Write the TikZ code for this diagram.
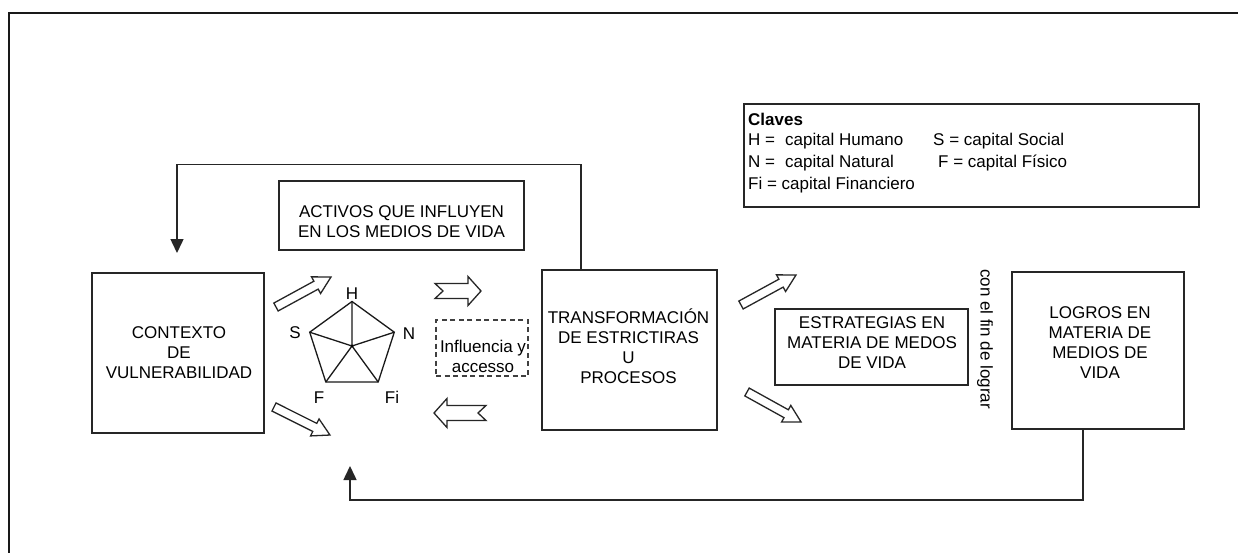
\documentclass[tikz,border=0pt]{standalone}
\usepackage{fontspec}
\setmainfont{Liberation Sans}
\usetikzlibrary{arrows.meta}
\tikzset{
  box/.style={draw=black!85, line width=1.6pt, inner sep=0pt},
  dbox/.style={draw=black!75, line width=1.5pt, dash pattern=on 5pt off 3.5pt, inner sep=0pt},
  txt/.style={font=\fontsize{17pt}{20pt}\selectfont, align=center, inner sep=0pt, text=black},
  conn/.style={draw=black!85, line width=1.5pt},
  tipA/.style={-{Triangle[width=13pt,length=14pt]}},
  barrow/.style={draw=black!85, line width=1.3pt, fill=white, line join=miter},
  penta/.style={draw=black!90, line width=1.3pt, line join=miter},
}
\newcommand{\diagarrow}[3]{%
  \begin{scope}[shift={#1}, rotate=#2]
    \draw[barrow] (0,-4.5) -- ({#3-17},-4.5) -- ({#3-17},-9.5) -- (#3,0)
      -- ({#3-17},9.5) -- ({#3-17},4.5) -- (0,4.5) -- cycle;
  \end{scope}}
\newcommand{\notcharrow}[3]{%
  \begin{scope}[shift={#1}, rotate=#2]
    \draw[barrow] (0,-7.5) -- ({#3-13},-7.5) -- ({#3-13},-14.5) -- (#3,0)
      -- ({#3-13},14.5) -- ({#3-13},7.5) -- (0,7.5) -- (8,0) -- cycle;
  \end{scope}}
\begin{document}
\begin{tikzpicture}[x=1pt, y=-1pt]
\useasboundingbox (0,0) rectangle (1238,553);
\fill[white] (0,0) rectangle (1238,553);
% outer frame (cut at right and bottom)
\draw[black!90, line width=2.6pt] (9,560) -- (9,13) -- (1245,13);

% boxes
\node[box, minimum width=172pt, minimum height=160pt] (ctx) at (178,353) {};
\node[box, minimum width=245pt, minimum height=69pt] (act) at (401.5,215.5) {};
\node[dbox, minimum width=92pt, minimum height=56pt] (inf) at (482,348) {};
\node[box, minimum width=175pt, minimum height=160pt] (tr) at (629.5,350) {};
\node[box, minimum width=193pt, minimum height=76pt] (est) at (871.5,347) {};
\node[box, minimum width=172pt, minimum height=157pt] (lg) at (1098,350.5) {};
\node[box, minimum width=455pt, minimum height=103pt] (cl) at (971.5,155.5) {};

% box texts
\node[txt] (ctxt) at (179,353) {CONTEXTO\\DE\\VULNERABILIDAD};
\node[txt] (actt) at (401.5,221.7) {ACTIVOS QUE INFLUYEN\\EN LOS MEDIOS DE VIDA};
\node[txt] (inft) at (483,356) {Influencia y\\accesso};
\node[txt] (trt) at (628.5,346) {TRANSFORMACIÓN\\DE ESTRICTIRAS\\U\\PROCESOS};
\node[txt] (estt) at (872,343) {ESTRATEGIAS EN\\MATERIA DE MEDOS\\DE VIDA};
\node[txt] (lgt) at (1100,343) {LOGROS EN\\MATERIA DE\\MEDIOS DE\\VIDA};
\node[txt, rotate=-90] (fin) at (985,339) {con el fin de lograr};

% key text
\node[txt, anchor=base west, font=\fontsize{17pt}{20pt}\selectfont\bfseries] (k0) at (748,126) {Claves};
\node[txt, anchor=base west] (k1a) at (748,146) {H =};
\node[txt, anchor=base west] (k1b) at (785,146) {capital Humano};
\node[txt, anchor=base west] (k1c) at (933,146) {S = capital Social};
\node[txt, anchor=base west] (k2a) at (748,168) {N =};
\node[txt, anchor=base west] (k2b) at (785,168) {capital Natural};
\node[txt, anchor=base west] (k2c) at (938,168) {F = capital Físico};
\node[txt, anchor=base west] (k3) at (748,190) {Fi = capital Financiero};

% pentagon
\coordinate (pc) at (352,346);
\coordinate (pH) at (352,301.5);
\coordinate (pN) at (394.3,332.2);
\coordinate (pFi) at (378.2,382);
\coordinate (pF) at (325.8,382);
\coordinate (pS) at (309.7,332.2);
\draw[penta] (pH) -- (pN) -- (pFi) -- (pF) -- (pS) -- cycle;
\draw[penta] (pc) -- (pH) (pc) -- (pN) (pc) -- (pFi) (pc) -- (pF) (pc) -- (pS);
\fill[black] (pc) circle (1.5pt);
\node[txt] (lH) at (352,294) {H};
\node[txt] (lS) at (295,333) {S};
\node[txt] (lN) at (409,334) {N};
\node[txt] (lF) at (319,398) {F};
\node[txt] (lFi) at (392,397) {Fi};

% block arrows
\diagarrow{(276,307)}{28.6}{62.6}
\diagarrow{(274,407)}{-26.6}{62.6}
\diagarrow{(741,305)}{28.6}{62.6}
\diagarrow{(747,392)}{-29}{61.8}
\notcharrow{(435,291)}{0}{46}
\notcharrow{(486,413)}{180}{52}

% feedback connectors
\coordinate (t1) at ([xshift=40pt]tr.north west);
\coordinate (fbc) at (177,164.7);
\coordinate (fbtip) at (177,253);
\draw[conn, tipA] (t1) |- (fbc) -- (fbtip);
\coordinate (b1) at ([xshift=72pt]lg.south west);
\coordinate (bbc) at (350,500);
\coordinate (bbtip) at (350,466);
\draw[conn, tipA] (b1) |- (bbc) -- (bbtip);
\end{tikzpicture}
\end{document}
